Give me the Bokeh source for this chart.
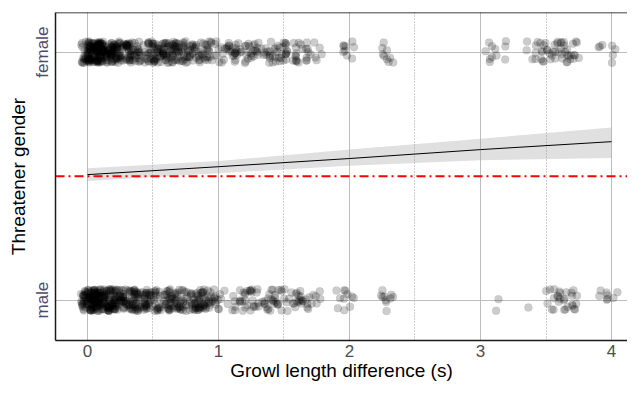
import numpy as np
from bokeh.plotting import figure
from bokeh.models import Range1d, FixedTicker, SingleIntervalTicker, Span, ColumnDataSource
from bokeh.transform import jitter
from bokeh.embed import file_html
from bokeh.resources import INLINE

# ---- data ----
gender_labels = {0: "male", 1: "female"}

female_x = [0.00, 0.05, 0.10, 0.15, 0.20, 0.25, 0.30, 0.35, 0.40, 0.45, 0.50, 0.55,
            0.60, 0.65, 0.70, 0.75, 0.80, 0.85, 0.90, 0.95, 1.00, 1.05, 1.10, 1.15,
            1.20, 1.25, 1.30, 1.35, 1.40, 1.45, 1.50, 1.55, 1.60, 1.65, 1.70, 1.75,
            1.95, 2.00, 2.25, 2.30, 3.05, 3.10, 3.15, 3.40, 3.45, 3.50, 3.55, 3.60,
            3.65, 3.70, 3.75, 3.95, 4.00]
female_n = [42, 48, 44, 38, 32, 24, 19, 17, 17, 16, 17, 20,
            20, 21, 18, 14, 12, 13, 13, 8, 5, 7, 9, 9,
            10, 8, 7, 8, 7, 8, 9, 7, 7, 6, 7, 4,
            4, 5, 4, 5, 4, 4, 3, 5, 6, 5, 8, 8,
            7, 6, 4, 3, 4]

male_x = [0.00, 0.05, 0.10, 0.15, 0.20, 0.25, 0.30, 0.35, 0.40, 0.45, 0.50, 0.55,
          0.60, 0.65, 0.70, 0.75, 0.80, 0.85, 0.90, 0.95, 1.00, 1.05, 1.10, 1.15,
          1.20, 1.25, 1.30, 1.35, 1.40, 1.45, 1.50, 1.55, 1.60, 1.65, 1.70, 1.75,
          1.95, 2.00, 2.25, 2.30, 3.10, 3.40, 3.55, 3.60, 3.65, 3.70, 3.75, 3.95, 4.00]
male_n = [46, 50, 44, 34, 28, 25, 22, 25, 23, 17, 14, 14,
          17, 20, 17, 12, 17, 20, 21, 10, 3, 3, 3, 7,
          11, 7, 6, 7, 7, 8, 6, 6, 7, 6, 7, 3,
          5, 6, 5, 5, 2, 1, 6, 8, 6, 5, 3, 4, 4]

fit_x = [0, 1, 2, 3, 4]
fit_y = [0.506, 0.538, 0.571, 0.607, 0.639]
fit_lo = [0.480, 0.512, 0.542, 0.564, 0.573]
fit_hi = [0.532, 0.561, 0.607, 0.651, 0.696]

chance_level = 0.5

# ---- build ----
xs = np.concatenate([np.repeat(female_x, female_n), np.repeat(male_x, male_n)])
ys = np.concatenate([np.ones(sum(female_n)), np.zeros(sum(male_n))])
pts = ColumnDataSource(dict(x=xs, y=ys))
fit = ColumnDataSource(dict(x=fit_x, y=fit_y, lo=fit_lo, hi=fit_hi))

FONT = "Liberation Sans"
y_top = 1.16

p = figure(width=627, height=384, output_backend="svg", toolbar_location=None,
           x_range=Range1d(-0.244, 4.122), y_range=Range1d(-0.163, y_top),
           min_border_left=55, min_border_right=0, min_border_top=12, min_border_bottom=44)
p.outline_line_color = None
p.background_fill_color = "white"

p.scatter(x=jitter("x", width=0.1), y=jitter("y", width=0.088), source=pts,
          size=8, fill_color="black", fill_alpha=0.2,
          line_color="black", line_alpha=0.08, line_width=0.6)

p.varea(x="x", y1="lo", y2="hi", source=fit, fill_color="#999999", fill_alpha=0.3)
p.line(x="x", y="y", source=fit, line_color="black", line_width=1)

p.add_layout(Span(location=chance_level, dimension="width", line_color="#FF0000",
                  line_width=2, line_dash="9 4 2 4"))
p.add_layout(Span(location=y_top, dimension="width", line_color="black", line_width=1.5))

# axes
xa = p.xaxis[0]
xa.ticker = SingleIntervalTicker(interval=1, num_minor_ticks=2)
xa.axis_label = "Growl length difference (s)"
ya = p.yaxis[0]
ya.ticker = FixedTicker(ticks=[0, 1], minor_ticks=[])
ya.major_label_overrides = gender_labels
ya.major_label_orientation = "vertical"
ya.axis_label = "Threatener gender"

for ax in (xa, ya):
    ax.axis_label_text_font = FONT
    ax.axis_label_text_font_style = "normal"
    ax.axis_label_text_font_size = "19px"
    ax.axis_label_text_color = "black"
    ax.major_label_text_font = FONT
    ax.major_label_text_font_size = "17px"
    ax.major_tick_line_color = None
    ax.minor_tick_line_color = None
    ax.major_tick_out = 0
    ax.major_tick_in = 0
    ax.minor_tick_out = 0
    ax.minor_tick_in = 0
    ax.axis_line_color = "#1a1a1a"
    ax.axis_line_width = 1.5

xa.major_label_text_color = "#4D4D4D"
ya.major_label_text_color = "#4B4B6B"
xa.major_label_standoff = 4
xa.axis_label_standoff = 0
ya.major_label_standoff = 3
ya.axis_label_standoff = 2

p.xgrid.grid_line_color = "#BDBDBD"
p.xgrid.grid_line_width = 1
p.xgrid.minor_grid_line_color = "#9A9A9A"
p.xgrid.minor_grid_line_dash = "1 2"
p.ygrid.grid_line_color = "#BDBDBD"

open("out.html", "w").write(file_html(p, INLINE))
